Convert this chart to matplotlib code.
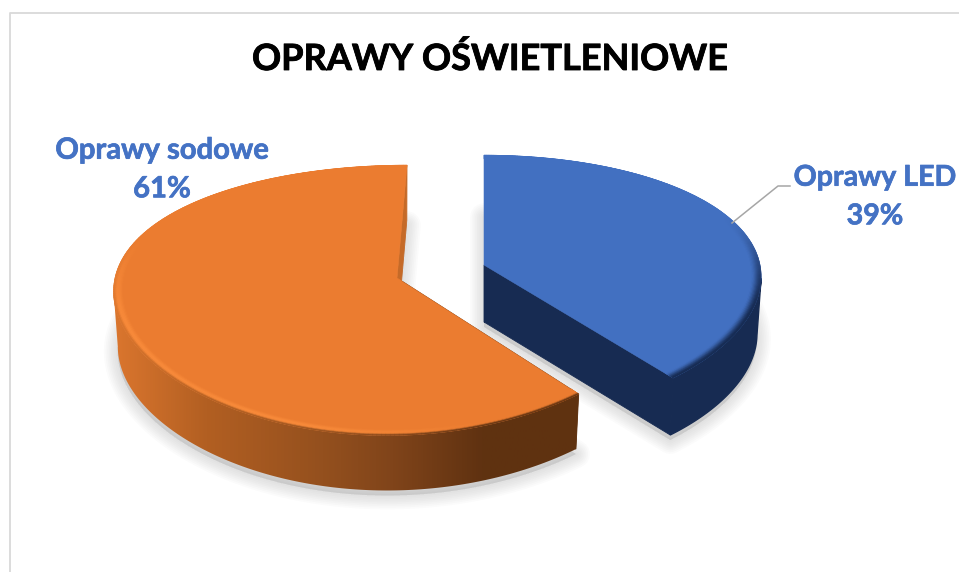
import numpy as np
import matplotlib
matplotlib.use("Agg")
import matplotlib.pyplot as plt
import matplotlib.patheffects as pe
from matplotlib.collections import PolyCollection
from matplotlib.colors import LinearSegmentedColormap, to_rgb
from matplotlib.patches import Polygon

# Dane wykresu
title = "OPRAWY OŚWIETLENIOWE"
categories = ["Oprawy LED", "Oprawy sodowe"]
shares = [39, 61]

plt.rcParams['font.family'] = ['Lato', 'DejaVu Sans']
BLUE = '#4472C4'

# Parametry rzutu 3D dla kazdego wycinka (osie w pikselach obrazu)
views = [
  dict(cx=484, cy=265, rx=276, h=128, px=0.09, py=0.165, shear=0, depth=57),
  dict(cx=397, cy=278, rx=282, h=131.5, px=0.066, py=0.165, shear=10, depth=55),
]


def project(theta, r, v, lower=False):
  # kat liczony od godziny 12 zgodnie z ruchem wskazowek
  X = r * np.sin(theta)
  Y = r * np.cos(theta)
  dx = v['rx'] * X / (1 + v['px'] * Y) + v['shear'] * Y
  dy = v['h'] * Y / (1 + v['py'] * Y)
  if lower:
    return v['cx'] + 0.985 * dx, v['cy'] - dy + v['depth']
  return v['cx'] + dx, v['cy'] - dy


def smooth(a, lo, hi):
  t = np.clip((a - lo) / (hi - lo), 0, 1)
  return t * t * (3 - 2 * t)


def mix(c1, c2, t):
  return np.array(c1) * (1 - t) + np.array(c2) * t


def side_outline(th, v):
  # luk od skrajnego punktu sylwetki, zeby kontur sie nie przecinal
  front = th[np.cos(th) < -0.1]
  xt, yt = project(front, 1, v)
  xb, yb = project(front, 1, v, lower=True)
  return np.c_[np.r_[xt, xb[::-1]], np.r_[yt, yb[::-1]]]


def draw_side(ax, th, v, cmap):
  # poziomy gradient przyciety do ksztaltu sciany bocznej
  clip = Polygon(side_outline(th, v), closed=True, transform=ax.transData, fc='none', ec='none')
  ax.add_patch(clip)
  grad = np.linspace(0, 1, 512).reshape(1, -1)
  im = ax.imshow(grad, cmap=cmap, vmin=0, vmax=1, extent=[113, 580, 572, 0], aspect='auto',
                 interpolation='bilinear', zorder=3)
  im.set_clip_path(clip)


def rim_band(th, v, face, side_col, glow, band=0.04, n=10):
  # zaokraglona krawedz: przejscie od koloru sciany do koloru boku
  quads, cols = [], []
  rings = np.linspace(1 - band, 1, n + 1)
  for j in range(n):
    xa, ya = project(th, rings[j], v)
    xb, yb = project(th, rings[j + 1], v)
    t = (j + 0.5) / n
    for i in range(len(th) - 1):
      front = 1 - smooth(np.cos(th[i]), -0.35, 0.45)
      c = np.array(to_rgb(face))
      if glow is not None:
        hl = np.clip((500 - xa[i]) / 180, 0, 1) * front
        c = mix(c, to_rgb(glow), hl * smooth(t, 0.1, 0.6))
        edge = np.array(side_col(np.clip((xa[i] - 113) / 467, 0, 1))[:3])
        c = mix(c, edge, front * smooth(t, 0.7, 1.0))
      else:
        c = mix(c, to_rgb(side_col), front * smooth(t, 0.1, 1.0))
      quads.append([(xa[i], ya[i]), (xa[i + 1], ya[i + 1]), (xb[i + 1], yb[i + 1]), (xb[i], yb[i])])
      cols.append(c)
  return PolyCollection(quads, facecolors=cols, edgecolors=cols, linewidths=0.4, zorder=6)


fig = plt.figure(figsize=(9.59, 5.72), dpi=100)
ax = fig.add_axes([0, 0, 1, 1])

# Ramka obszaru wykresu
ax.plot([10, 10, 959], [572, 13, 13], color='#D9D9D9', lw=1.3, zorder=1)

edges = np.radians(np.cumsum([0] + shares) * 3.6)
orange_side = LinearSegmentedColormap.from_list('os', [
  (0.0, '#DB762E'), (0.2, '#B25F22'), (0.45, '#94501E'), (0.6, '#80441A'), (0.79, '#603211'), (1.0, '#5F3210')])
blue_side = LinearSegmentedColormap.from_list('bs', ['#172B52', '#172B52'])

settings = [
  dict(face='#4270C1', wall='#172B52', cmap=blue_side, rim='#172B52', glow=None),
  dict(face='#EB7C30', wall='#C56A28', cmap=orange_side, rim=orange_side, glow='#F88A3A'),
]

for k, v in enumerate(views):
  s = settings[k]
  th = np.linspace(edges[k], edges[k + 1], 260)
  xt, yt = project(th, 1, v)
  xb, yb = project(th, 1, v, lower=True)
  ax_, ay_ = v['cx'], v['cy']

  # Rozmyty cien pod wycinkiem
  sx = np.r_[ax_, xb, ax_]
  sy = np.r_[ay_ + v['depth'], yb, ay_ + v['depth']] + 5
  for lw in np.arange(20, 1, -2.5):
    ax.add_patch(Polygon(np.c_[sx, sy], closed=True, fc='#8C8C8C', ec='#8C8C8C', lw=lw, alpha=0.03, joinstyle='round', zorder=2))

  # Sciany boczne
  if k == 0:
    ax.add_patch(Polygon(side_outline(th, v), closed=True, fc=s['wall'], ec=s['wall'], lw=1.0, zorder=3))
  else:
    draw_side(ax, th, v, s['cmap'])
  for t_edge in (th[0], th[-1]):
    ox, oy = project(t_edge, 1, v)
    bx, by = project(t_edge, 1, v, lower=True)
    wall = [(ax_, ay_), (float(ox), float(oy)), (float(bx), float(by)), (ax_, ay_ + v['depth'])]
    col = s['wall'] if (k == 0 or t_edge == th[-1]) else '#5F3210'
    ax.add_patch(Polygon(wall, closed=True, fc=col, ec=col, lw=0.6, zorder=4))

  # Gorna sciana wycinka
  ax.add_patch(Polygon(np.c_[np.r_[ax_, xt], np.r_[ay_, yt]], closed=True, fc=s['face'], ec=s['face'], lw=0.4, zorder=5))
  ax.add_collection(rim_band(th, v, s['face'], s['rim'], s['glow']))

# Etykiety danych
thicken = [pe.withStroke(linewidth=0.5, foreground=BLUE)]
ax.text(162, 170, f"{categories[1]}\n{shares[1]}%", color=BLUE, fontsize=21, fontweight='bold',
        ha='center', va='center', linespacing=1.6, zorder=8, path_effects=thicken)
ax.text(875, 197, f"{categories[0]}\n{shares[0]}%", color=BLUE, fontsize=20.6, fontweight='bold',
        ha='center', va='center', linespacing=1.6, zorder=8, path_effects=thicken)
ax.plot([732, 778, 790], [223, 186, 186], color='#A6A6A6', lw=1.1, zorder=7)

ax.text(490, 59, title, color='black', fontsize=26, fontweight='bold', ha='center', va='center', zorder=8,
        path_effects=[pe.withStroke(linewidth=0.6, foreground='black')])

ax.set_xlim(0, 959)
ax.set_ylim(572, 0)
ax.axis('off')

plt.savefig("out.png", dpi=100)
